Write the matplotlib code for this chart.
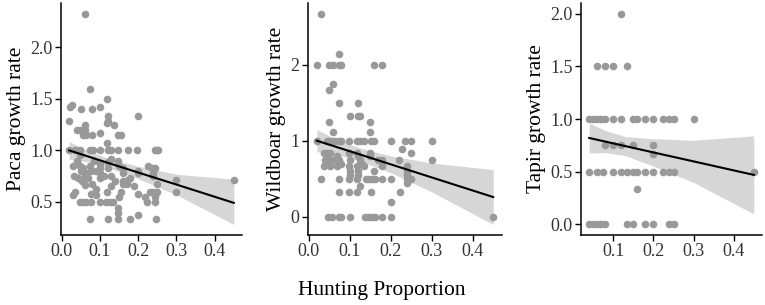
import numpy as np
import matplotlib
matplotlib.use("Agg")
import matplotlib.pyplot as plt

plt.rcParams['font.family'] = ['Liberation Serif', 'DejaVu Serif']

# --- Paca points (hunting proportion, growth rate) ---
paca_x = [0.06, 0.075, 0.12, 0.022, 0.026, 0.05, 0.08, 0.10, 0.02, 0.122, 0.122, 0.20,
          0.12, 0.137, 0.06, 0.06, 0.04, 0.048, 0.056, 0.065, 0.08, 0.10, 0.147, 0.156, 0.12,
          0.02, 0.035, 0.048, 0.074, 0.083, 0.10, 0.122, 0.13, 0.148, 0.174, 0.196, 0.244, 0.252,
          0.048, 0.04, 0.048, 0.057, 0.074, 0.078, 0.10, 0.10, 0.10, 0.10, 0.122, 0.122, 0.147,
          0.15, 0.16, 0.173, 0.18, 0.20, 0.226, 0.235, 0.244, 0.24, 0.044, 0.053, 0.07,
          0.035, 0.06, 0.078, 0.12, 0.128, 0.155, 0.16, 0.20, 0.218, 0.222, 0.244, 0.244, 0.23,
          0.048, 0.056, 0.065, 0.078, 0.10, 0.117, 0.126, 0.135,
          0.147, 0.147, 0.074, 0.122, 0.148, 0.178, 0.248, 0.20, 0.30, 0.30, 0.45,
          0.03, 0.08, 0.09, 0.065, 0.05, 0.06, 0.11, 0.13, 0.14, 0.16, 0.17, 0.25, 0.25, 0.24,
          0.09, 0.085, 0.03, 0.033, 0.20, 0.16, 0.13, 0.25, 0.24, 0.15, 0.19, 0.09]
paca_y = [2.33, 1.60, 1.50, 1.42, 1.44, 1.40, 1.40, 1.42, 1.29, 1.33, 1.29, 1.33,
          1.27, 1.25, 1.20, 1.25, 1.20, 1.20, 1.15, 1.15, 1.15, 1.17, 1.15, 1.15, 1.07,
          1.0, 1.0, 1.0, 1.0, 1.0, 1.0, 1.0, 1.0, 1.0, 1.0, 1.0, 1.0, 1.0,
          0.955, 0.90, 0.85, 0.83, 0.85, 0.80, 0.87, 0.83, 0.78, 0.73, 0.89, 0.83, 0.90,
          0.85, 0.78, 0.71, 0.73, 0.78, 0.85, 0.83, 0.83, 0.78, 0.73, 0.70, 0.73,
          0.60, 0.66, 0.58, 0.60, 0.65, 0.60, 0.67, 0.58, 0.55, 0.50, 0.55, 0.50, 0.60,
          0.50, 0.50, 0.50, 0.50, 0.50, 0.50, 0.50, 0.50,
          0.44, 0.39, 0.33, 0.33, 0.33, 0.33, 0.33, 0.37, 0.71, 0.60, 0.71,
          0.57, 0.67, 0.62, 0.78, 0.80, 0.75, 0.75, 0.75, 0.70, 0.70, 0.67, 0.67, 0.60, 0.75,
          0.80, 0.90, 0.85, 0.75, 0.80, 0.83, 0.92, 1.0, 0.60, 0.55, 0.65, 0.57]

# --- Wildboar points ---
boar_x = [0.03, 0.02, 0.05, 0.06, 0.075, 0.08, 0.16, 0.18,
          0.075, 0.06, 0.05, 0.075, 0.12, 0.10, 0.12, 0.125, 0.05, 0.15, 0.06, 0.15,
          0.02, 0.045, 0.05, 0.057, 0.065, 0.073, 0.08, 0.098, 0.118, 0.126, 0.134, 0.151,
          0.159, 0.20, 0.236, 0.249, 0.30, 0.228,
          0.037, 0.045, 0.053, 0.098, 0.118, 0.25, 0.15,
          0.04, 0.05, 0.06, 0.075, 0.10, 0.125, 0.18, 0.17, 0.22, 0.30,
          0.037, 0.053, 0.069, 0.098, 0.118, 0.134, 0.178, 0.24,
          0.03, 0.073, 0.098, 0.118, 0.139, 0.147, 0.155, 0.163, 0.18, 0.20, 0.24, 0.25,
          0.24, 0.24, 0.24, 0.073, 0.098, 0.118, 0.151, 0.224, 0.126, 0.20,
          0.047, 0.057, 0.073, 0.08, 0.10, 0.138, 0.146, 0.154, 0.161, 0.179, 0.20, 0.45,
          0.10, 0.10, 0.12, 0.12, 0.16, 0.15, 0.12, 0.07, 0.08, 0.13]
boar_y = [2.67, 2.0, 2.0, 2.0, 2.0, 2.0, 2.0, 2.0,
          2.14, 1.75, 1.67, 1.50, 1.50, 1.33, 1.33, 1.33, 1.25, 1.25, 1.12, 1.12,
          1.0, 1.0, 1.0, 1.0, 1.0, 1.0, 1.0, 1.0, 1.0, 1.0, 1.0, 1.0,
          1.0, 1.0, 1.0, 1.0, 1.0, 0.89,
          0.84, 0.84, 0.84, 0.84, 0.84, 0.84, 0.84,
          0.75, 0.75, 0.75, 0.75, 0.75, 0.75, 0.75, 0.75, 0.75, 0.75,
          0.67, 0.67, 0.67, 0.67, 0.67, 0.67, 0.67, 0.67,
          0.50, 0.50, 0.50, 0.50, 0.50, 0.50, 0.50, 0.50, 0.50, 0.50, 0.50, 0.50,
          0.55, 0.60, 0.45, 0.33, 0.33, 0.33, 0.33, 0.33, 0.40, 0.20,
          0.0, 0.0, 0.0, 0.0, 0.0, 0.0, 0.0, 0.0, 0.0, 0.0, 0.0, 0.0,
          0.60, 0.55, 0.60, 0.55, 0.60, 0.80, 0.80, 0.80, 0.70, 0.70]

# --- Tapir points ---
tapir_x = [0.12,
           0.06, 0.08, 0.10, 0.133,
           0.04, 0.05, 0.06, 0.07, 0.08, 0.10, 0.12, 0.15, 0.16, 0.18, 0.20, 0.225, 0.24, 0.25, 0.30,
           0.08, 0.10, 0.12, 0.15, 0.20, 0.20,
           0.04, 0.06, 0.075, 0.10, 0.12, 0.133, 0.15, 0.16, 0.18, 0.20, 0.225, 0.24, 0.25, 0.45,
           0.16,
           0.04, 0.05, 0.06, 0.07, 0.08, 0.133, 0.15, 0.18, 0.20, 0.24, 0.25]
tapir_y = [2.0,
           1.5, 1.5, 1.5, 1.5,
           1.0, 1.0, 1.0, 1.0, 1.0, 1.0, 1.0, 1.0, 1.0, 1.0, 1.0, 1.0, 1.0, 1.0, 1.0,
           0.75, 0.75, 0.75, 0.75, 0.75, 0.667,
           0.5, 0.5, 0.5, 0.5, 0.5, 0.5, 0.5, 0.5, 0.5, 0.5, 0.5, 0.5, 0.5, 0.5,
           0.333,
           0.0, 0.0, 0.0, 0.0, 0.0, 0.0, 0.0, 0.0, 0.0, 0.0, 0.0]

# --- fitted lines and 95% bands ---
paca_fx = [0.02, 0.07, 0.12, 0.20, 0.30, 0.45]
paca_fy = [1.0, 0.94, 0.88, 0.785, 0.668, 0.49]
paca_lo = [0.915, 0.885, 0.835, 0.725, 0.568, 0.28]
paca_hi = [1.085, 0.995, 0.925, 0.845, 0.768, 0.72]

boar_fx = [0.02, 0.07, 0.12, 0.20, 0.30, 0.45]
boar_fy = [1.0, 0.914, 0.828, 0.69, 0.518, 0.26]
boar_lo = [0.855, 0.814, 0.743, 0.58, 0.328, -0.10]
boar_hi = [1.145, 1.014, 0.913, 0.80, 0.708, 0.62]

tapir_fx = [0.04, 0.08, 0.13, 0.20, 0.30, 0.45]
tapir_fy = [0.82, 0.786, 0.743, 0.683, 0.598, 0.47]
tapir_lo = [0.678, 0.681, 0.653, 0.553, 0.398, 0.10]
tapir_hi = [0.962, 0.891, 0.833, 0.813, 0.798, 0.84]

panels = [
    ("Paca growth rate", paca_x, paca_y, paca_fx, paca_fy, paca_lo, paca_hi,
     [0.0, 0.1, 0.2, 0.3, 0.4], [0.5, 1.0, 1.5, 2.0], "{:.1f}"),
    ("Wildboar growth rate", boar_x, boar_y, boar_fx, boar_fy, boar_lo, boar_hi,
     [0.0, 0.1, 0.2, 0.3, 0.4], [0, 1, 2], "{:.0f}"),
    ("Tapir growth rate", tapir_x, tapir_y, tapir_fx, tapir_fy, tapir_lo, tapir_hi,
     [0.1, 0.2, 0.3, 0.4], [0.0, 0.5, 1.0, 1.5, 2.0], "{:.1f}"),
]

W, H = 765, 305
fig = plt.figure(figsize=(W / 100, H / 100), dpi=100)

# axes boxes in pixels: left, right
boxes = [(61, 242), (308, 502), (581, 762)]
top, bottom = 3, 235

for (label, x, y, fx, fy, lo, hi, xt, yt, fmt), (l, r) in zip(panels, boxes):
    ax = fig.add_axes([l / W, (H - bottom) / H, (r - l) / W, (bottom - top) / H])
    ax.scatter(x, y, s=30, color="#999999", linewidths=0, zorder=2)
    ax.fill_between(fx, lo, hi, color="#999999", alpha=0.4, linewidth=0, zorder=3)
    ax.plot(fx, fy, color="black", lw=1.5, zorder=4)
    ax.margins(x=0.05, y=0.05)
    ax.set_xticks(xt)
    ax.set_xticklabels(["{:.1f}".format(v) for v in xt])
    ax.set_yticks(yt)
    ax.set_yticklabels([fmt.format(v) for v in yt])
    for s in ("top", "right"):
        ax.spines[s].set_visible(False)
    for s in ("left", "bottom"):
        ax.spines[s].set_linewidth(1.1)
    ax.tick_params(direction="out", length=4, width=1, labelsize=13,
                   colors="black", labelcolor="#333333", pad=2)
    ax.set_ylabel(label, fontsize=15.5, labelpad=3)

fig.text(0.499, 0.048, "Hunting Proportion", ha="center", va="center", fontsize=15.5)

fig.savefig("out.png", dpi=100)
